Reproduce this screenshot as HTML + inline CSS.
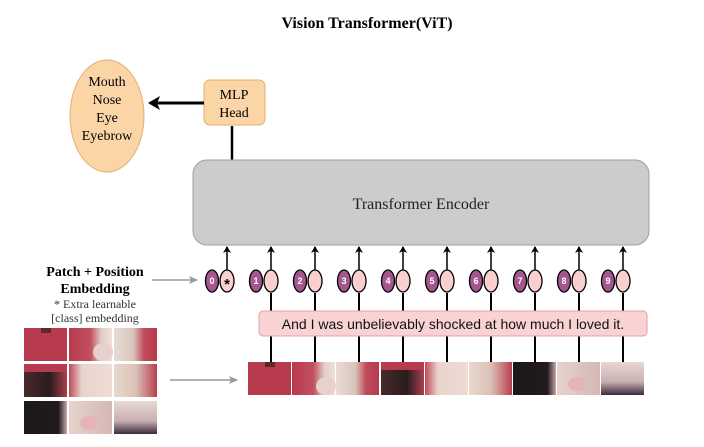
<!DOCTYPE html>
<html><head><meta charset="utf-8"><style>
html,body{margin:0;padding:0;background:#fff;}
svg{display:block;}
text{font-family:"Liberation Serif",serif;}
text.s{font-family:"Liberation Sans",sans-serif;}
</style></head><body>
<svg width="704" height="447" viewBox="0 0 704 447" xmlns="http://www.w3.org/2000/svg">
<defs>
<marker id="ah" markerWidth="8" markerHeight="8" refX="6" refY="4" orient="auto" markerUnits="userSpaceOnUse"><path d="M0,0 L7,4 L0,8 L2,4 Z" fill="#000"/></marker>
<marker id="ahb" markerWidth="14" markerHeight="14" refX="10" refY="7" orient="auto" markerUnits="userSpaceOnUse"><path d="M0,0 L12,7 L0,14 L3,7 Z" fill="#000"/></marker>
<marker id="ahg" markerWidth="10" markerHeight="10" refX="8" refY="5" orient="auto" markerUnits="userSpaceOnUse"><path d="M0,1 L9,5 L0,9 L2,5 Z" fill="#999"/></marker>
<linearGradient id="blL" x1="0" x2="1"><stop offset="0" stop-color="#b83a4e"/><stop offset="0.5" stop-color="#c25060"/><stop offset="0.75" stop-color="#e0cdc8"/><stop offset="1" stop-color="#efe0d8"/></linearGradient>
<linearGradient id="blR" x1="0" x2="1"><stop offset="0" stop-color="#e8dcd4"/><stop offset="0.45" stop-color="#d9c4bc"/><stop offset="0.7" stop-color="#c04a5a"/><stop offset="1" stop-color="#b83a4e"/></linearGradient>
<linearGradient id="t4" x1="0" x2="1" y1="0" y2="0"><stop offset="0" stop-color="#4a2a2c"/><stop offset="0.6" stop-color="#2a1c1e"/><stop offset="1" stop-color="#a8404e"/></linearGradient>
<linearGradient id="t5" x1="0" x2="1"><stop offset="0" stop-color="#c24a58"/><stop offset="0.3" stop-color="#e8d4cc"/><stop offset="1" stop-color="#efdcd4"/></linearGradient>
<linearGradient id="t6" x1="0" x2="1"><stop offset="0" stop-color="#e8d8cc"/><stop offset="0.5" stop-color="#dcc2b8"/><stop offset="1" stop-color="#b84050"/></linearGradient>
<linearGradient id="t7" x1="0" x2="1"><stop offset="0" stop-color="#1c1719"/><stop offset="0.8" stop-color="#221a1e"/><stop offset="1" stop-color="#c8a8a8"/></linearGradient>
<linearGradient id="t8" x1="0" x2="1"><stop offset="0" stop-color="#e6d2cc"/><stop offset="1" stop-color="#d4b8b4"/></linearGradient>
<linearGradient id="t9" x1="0" x2="0" y1="0" y2="1"><stop offset="0" stop-color="#e8d8d4"/><stop offset="0.6" stop-color="#c8b0b0"/><stop offset="1" stop-color="#3a2a40"/></linearGradient>
<g id="p1"><rect width="43" height="33" fill="#b83a4e"/><rect x="17" y="0" width="10" height="5" fill="#5a2a2a"/></g>
<g id="p2"><rect width="43" height="33" fill="url(#blL)"/><ellipse cx="34" cy="24" rx="10" ry="9" fill="#e8d0cc"/></g>
<g id="p3"><rect width="43" height="33" fill="url(#blR)"/></g>
<g id="p4"><rect width="43" height="33" fill="url(#t4)"/><rect width="43" height="8" fill="#b83a4e"/></g>
<g id="p5"><rect width="43" height="33" fill="url(#t5)"/></g>
<g id="p6"><rect width="43" height="33" fill="url(#t6)"/></g>
<g id="p7"><rect width="43" height="33" fill="url(#t7)"/></g>
<g id="p8"><rect width="43" height="33" fill="url(#t8)"/><ellipse cx="20" cy="22" rx="9" ry="7" fill="#e4b4b8"/></g>
<g id="p9"><rect width="43" height="33" fill="url(#t9)"/></g>
</defs>

<text x="367" y="28" font-size="16" font-weight="bold" text-anchor="middle">Vision Transformer(ViT)</text>

<ellipse cx="107" cy="116" rx="37" ry="56" fill="#fbd5a5" stroke="#e0b070" stroke-width="1"/>
<text x="107" y="86" font-size="14" text-anchor="middle">Mouth</text>
<text x="107" y="104" font-size="14" text-anchor="middle">Nose</text>
<text x="107" y="122" font-size="14" text-anchor="middle">Eye</text>
<text x="107" y="140" font-size="14" text-anchor="middle">Eyebrow</text>

<rect x="204" y="80" width="61" height="45" rx="6" fill="#fbd5a5" stroke="#e0b070"/>
<text x="234" y="99" font-size="14" text-anchor="middle">MLP</text>
<text x="234" y="117" font-size="14" text-anchor="middle">Head</text>
<line x1="204" y1="103" x2="150" y2="103" stroke="#000" stroke-width="3" marker-end="url(#ahb)"/>
<line x1="232" y1="126" x2="232" y2="160" stroke="#000" stroke-width="2.5"/>

<rect x="193" y="160" width="456" height="85" rx="14" fill="#cccccc" stroke="#99a2ad" stroke-width="1"/>
<text x="421" y="209" font-size="16" text-anchor="middle" fill="#222">Transformer Encoder</text>

<g stroke="#000" stroke-width="1.5">
<line x1="227" y1="270" x2="227" y2="247" marker-end="url(#ah)"/>
<line x1="271" y1="270" x2="271" y2="247" marker-end="url(#ah)"/>
<line x1="315" y1="270" x2="315" y2="247" marker-end="url(#ah)"/>
<line x1="359" y1="270" x2="359" y2="247" marker-end="url(#ah)"/>
<line x1="403" y1="270" x2="403" y2="247" marker-end="url(#ah)"/>
<line x1="447" y1="270" x2="447" y2="247" marker-end="url(#ah)"/>
<line x1="491" y1="270" x2="491" y2="247" marker-end="url(#ah)"/>
<line x1="535" y1="270" x2="535" y2="247" marker-end="url(#ah)"/>
<line x1="579" y1="270" x2="579" y2="247" marker-end="url(#ah)"/>
<line x1="623" y1="270" x2="623" y2="247" marker-end="url(#ah)"/>
</g>
<g stroke="#000" stroke-width="2">
<line x1="271" y1="293" x2="271" y2="362"/>
<line x1="315" y1="293" x2="315" y2="362"/>
<line x1="359" y1="293" x2="359" y2="362"/>
<line x1="403" y1="293" x2="403" y2="362"/>
<line x1="447" y1="293" x2="447" y2="362"/>
<line x1="491" y1="293" x2="491" y2="362"/>
<line x1="535" y1="293" x2="535" y2="362"/>
<line x1="579" y1="293" x2="579" y2="362"/>
<line x1="623" y1="293" x2="623" y2="362"/>
</g>
<g stroke="#000" stroke-width="1.3">
<ellipse cx="212" cy="281" rx="6.5" ry="11" fill="#a4578f"/><ellipse cx="227" cy="281" rx="7" ry="11" fill="#f9cfd0"/>
<ellipse cx="256" cy="281" rx="6.5" ry="11" fill="#a4578f"/><ellipse cx="271" cy="281" rx="7" ry="11" fill="#f9cfd0"/>
<ellipse cx="300" cy="281" rx="6.5" ry="11" fill="#a4578f"/><ellipse cx="315" cy="281" rx="7" ry="11" fill="#f9cfd0"/>
<ellipse cx="344" cy="281" rx="6.5" ry="11" fill="#a4578f"/><ellipse cx="359" cy="281" rx="7" ry="11" fill="#f9cfd0"/>
<ellipse cx="388" cy="281" rx="6.5" ry="11" fill="#a4578f"/><ellipse cx="403" cy="281" rx="7" ry="11" fill="#f9cfd0"/>
<ellipse cx="432" cy="281" rx="6.5" ry="11" fill="#a4578f"/><ellipse cx="447" cy="281" rx="7" ry="11" fill="#f9cfd0"/>
<ellipse cx="476" cy="281" rx="6.5" ry="11" fill="#a4578f"/><ellipse cx="491" cy="281" rx="7" ry="11" fill="#f9cfd0"/>
<ellipse cx="520" cy="281" rx="6.5" ry="11" fill="#a4578f"/><ellipse cx="535" cy="281" rx="7" ry="11" fill="#f9cfd0"/>
<ellipse cx="564" cy="281" rx="6.5" ry="11" fill="#a4578f"/><ellipse cx="579" cy="281" rx="7" ry="11" fill="#f9cfd0"/>
<ellipse cx="608" cy="281" rx="6.5" ry="11" fill="#a4578f"/><ellipse cx="623" cy="281" rx="7" ry="11" fill="#f9cfd0"/>
</g>
<g font-size="9" font-weight="bold" fill="#fff" text-anchor="middle">
<text class="s" x="212" y="284">0</text><text class="s" x="256" y="284">1</text><text class="s" x="300" y="284">2</text><text class="s" x="344" y="284">3</text><text class="s" x="388" y="284">4</text><text class="s" x="432" y="284">5</text><text class="s" x="476" y="284">6</text><text class="s" x="520" y="284">7</text><text class="s" x="564" y="284">8</text><text class="s" x="608" y="284">9</text>
</g>
<text class="s" x="227" y="289" font-size="15" font-weight="bold" text-anchor="middle">*</text>

<rect x="259" y="311" width="388" height="25" rx="4" fill="#f9d3d3" stroke="#e0a0a0"/>
<text class="s" x="453" y="329" font-size="14" text-anchor="middle" fill="#111" style="font-family:'Liberation Sans',sans-serif">And I was unbelievably shocked at how much I loved it.</text>

<use href="#p1" x="248" y="362"/><use href="#p2" x="292" y="362"/><use href="#p3" x="336" y="362"/>
<use href="#p4" x="381" y="362"/><use href="#p5" x="425" y="362"/><use href="#p6" x="469" y="362"/>
<use href="#p7" x="513" y="362"/><use href="#p8" x="557" y="362"/><use href="#p9" x="601" y="362"/>

<use href="#p1" x="24" y="328"/><use href="#p2" x="69" y="328"/><use href="#p3" x="114" y="328"/>
<use href="#p4" x="24" y="364"/><use href="#p5" x="69" y="364"/><use href="#p6" x="114" y="364"/>
<use href="#p7" x="24" y="401"/><use href="#p8" x="69" y="401"/><use href="#p9" x="114" y="401"/>

<text x="95" y="276" font-size="14" font-weight="bold" text-anchor="middle">Patch + Position</text>
<text x="95" y="293" font-size="14" font-weight="bold" text-anchor="middle">Embedding</text>
<text x="95" y="308" font-size="12" text-anchor="middle" fill="#333">* Extra learnable</text>
<text x="95" y="322" font-size="12" text-anchor="middle" fill="#333">[class] embedding</text>

<line x1="152" y1="280" x2="197" y2="280" stroke="#999" stroke-width="1.5" marker-end="url(#ahg)"/>
<line x1="170" y1="380" x2="237" y2="380" stroke="#999" stroke-width="1.5" marker-end="url(#ahg)"/>
</svg>
</body></html>
